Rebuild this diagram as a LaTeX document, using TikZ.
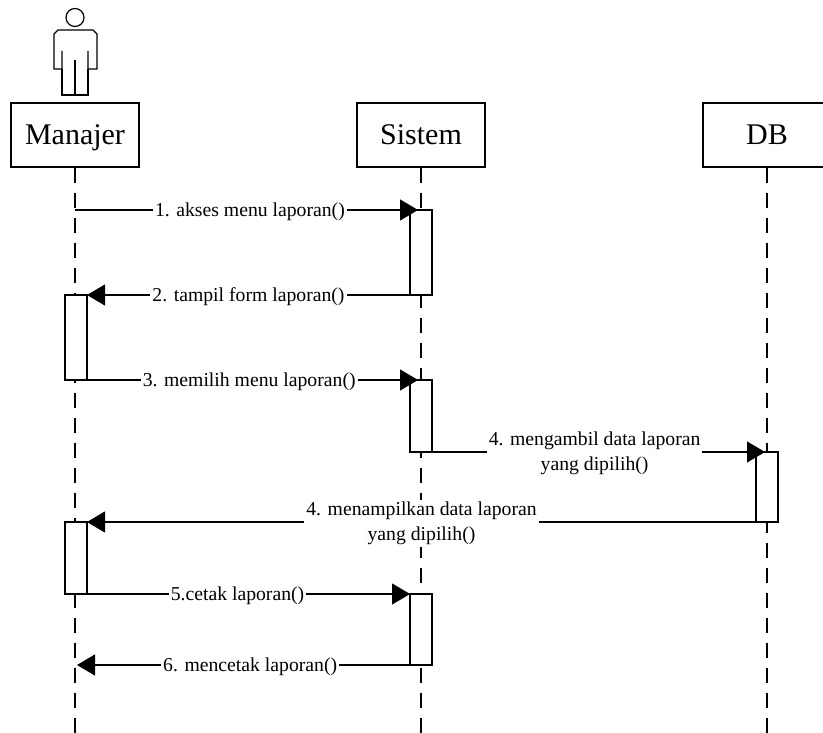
\documentclass[tikz,border=0pt]{standalone}
\usepackage{fontspec}
\setmainfont{Liberation Serif}
\usetikzlibrary{arrows.meta, positioning, calc}
\tikzset{
    obj/.style={
        rectangle,
        draw=black,
        line width=1.2pt,
        minimum width=128pt,
        minimum height=64pt,
        inner sep=0pt,
        text height=20pt,
        text depth=0pt,
        font=\fontsize{30}{32}\selectfont,
    },
    akt/.style={
        rectangle,
        draw=black,
        fill=white,
        line width=1.2pt,
        minimum width=22pt,
        inner sep=0pt,
        outer sep=0pt,
    },
    lifeline/.style={
        line width=1.2pt,
        dash pattern=on 15pt off 10pt,
    },
    msg/.style={
        line width=1.2pt,
        -{Triangle[length=18pt,width=21pt]},
    },
    lbl/.style={
        fill=white,
        inner sep=2pt,
        align=center,
        yshift=-1.5pt,
        font=\fontsize{19.7}{24.5}\selectfont,
    },
}

\begin{document}
\begin{tikzpicture}[x=1pt,y=-1pt]
      \useasboundingbox (0,0) rectangle (823,733);

      % objek
      \node [obj] (manajer) at (75,135) {Manajer};
      \node [obj] (sistem) at (421,135) {Sistem};
      \node [obj] (db) at (767,135) {DB};

      % aktor
      \node [circle, draw, line width=1.2pt, minimum size=18pt, inner sep=0pt] (kepala) at (75,17.5) {};
      \draw [line width=1.2pt] (62,51) -- (62,69) -- (54,69) -- (54,34) -- (58,30) -- (93,30) -- (97,34) -- (97,69) -- (88,69) -- (88,51);
      \draw [line width=1.2pt] (62,69) -- (62,95) -- (88,95) -- (88,69);
      \draw [line width=1.2pt] (75,60) -- (75,95);

      % garis hidup
      \coordinate (manajer-end) at (75,733);
      \coordinate (sistem-end) at (421,733);
      \coordinate (db-end) at (767,733);
      \draw [lifeline] (manajer) -- (manajer-end);
      \draw [lifeline] (sistem) -- (sistem-end);
      \draw [lifeline] (db) -- (db-end);

      % aktivasi
      \node [akt, minimum height=85pt] (s1) at (421,252.5) {};
      \node [akt, minimum height=85pt] (m1) at (76,337.5) {};
      \node [akt, minimum height=72pt] (s2) at (421,416) {};
      \node [akt, minimum height=70pt] (d1) at (767,487) {};
      \node [akt, minimum height=72pt] (m2) at (76,558) {};
      \node [akt, minimum height=71pt] (s3) at (421,629.5) {};

      % pesan
      \coordinate (m0) at (75,210);
      \coordinate (s1-in) at (418,210);
      \coordinate (s2-in) at (418,380);
      \coordinate (d1-in) at (765,452);
      \coordinate (m3) at (77,665);

      \draw [msg] (m0) -- node[lbl, pos=0.51] {1. akses menu laporan()} (s1-in);
      \draw [msg] (s1.south west) -- node[lbl, pos=0.5] {2. tampil form laporan()} (m1.north east);
      \draw [msg] (m1.south east) -- node[lbl, pos=0.49] {3. memilih menu laporan()} (s2-in);
      \draw [msg] (s2.south west) -- node[lbl, pos=0.52] {4. mengambil data laporan\\yang dipilih()} (d1-in);
      \draw [msg] (d1.south west) -- node[lbl, pos=0.5] {4. menampilkan data laporan\\yang dipilih()} (m2.north east);
      \draw [msg] (m2.south west) -- node[lbl, pos=0.5] {5.cetak laporan()} (s3.north west);
      \draw [msg] (s3.south west) -- node[lbl, pos=0.48] {6. mencetak laporan()} (m3);
\end{tikzpicture}
\end{document}
